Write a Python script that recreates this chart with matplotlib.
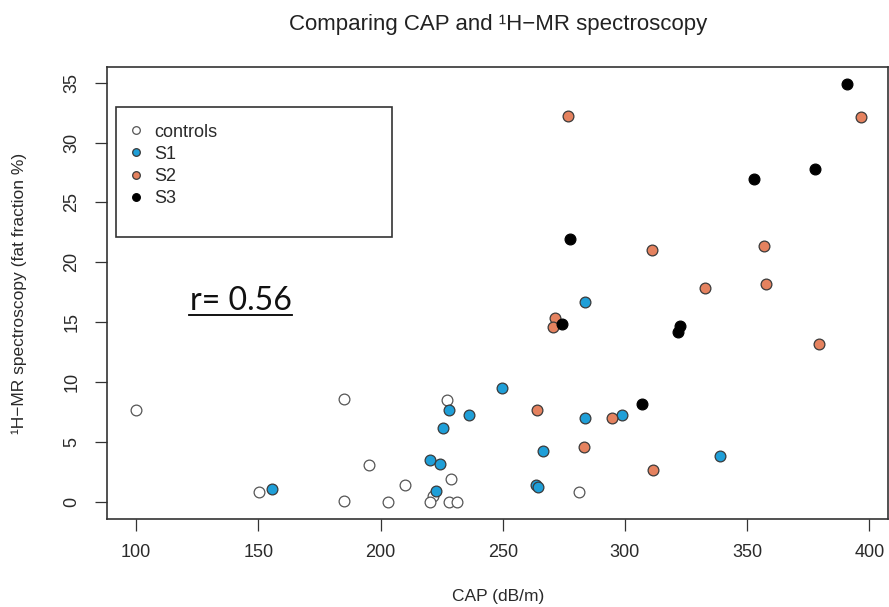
import matplotlib
matplotlib.use("Agg")
import matplotlib.pyplot as plt
from matplotlib.patches import Rectangle

# data
ctrl_x = [100.0, 185.1, 227.0, 195.1, 229.0, 210.1, 221.5, 220.1, 227.9, 231.1, 203.1, 185.1, 150.1, 281.0]
ctrl_y = [7.68, 8.63, 8.54, 3.06, 1.95, 1.39, 0.50, 0.0, 0.0, 0.0, 0.0, 0.05, 0.83, 0.81]

s1_x = [228.1, 236.0, 225.6, 220.3, 224.4, 222.6, 155.5, 249.9, 283.5, 298.7, 266.6, 338.9, 263.5, 264.6, 283.5]
s1_y = [7.65, 7.23, 6.18, 3.48, 3.17, 0.95, 1.08, 9.49, 7.04, 7.29, 4.26, 3.81, 1.39, 1.25, 16.69]

s2_x = [276.8, 396.6, 310.9, 356.8, 332.8, 357.5, 271.5, 270.4, 379.2, 264.0, 294.5, 283.1, 311.4]
s2_y = [32.25, 32.14, 21.06, 21.39, 17.86, 18.22, 15.38, 14.61, 13.19, 7.68, 7.01, 4.59, 2.70]

s3_x = [390.8, 377.9, 352.8, 277.4, 274.1, 322.4, 321.8, 307.1]
s3_y = [34.92, 27.80, 26.99, 21.95, 14.89, 14.69, 14.17, 8.21]

x_ticks = [100, 150, 200, 250, 300, 350, 400]
y_ticks = [0, 5, 10, 15, 20, 25, 30, 35]
r_label = "r= 0.56"

COL_S1 = "#1f9fd8"
COL_S2 = "#e5825f"
COL_S3 = "#000000"
COL_EDGE = "#3a3a3a"

plt.rcParams.update({
    "font.family": ["Liberation Sans", "DejaVu Sans"],
    "axes.linewidth": 1.2,
    "axes.edgecolor": "#333333",
})

fig = plt.figure(figsize=(8.89, 6.07), dpi=100)
ax = fig.add_axes([0.1206, 0.1453, 0.8788, 0.7442])

groups = [
    (ctrl_x, ctrl_y, "white", "#555555", "controls"),
    (s1_x, s1_y, COL_S1, COL_EDGE, "S1"),
    (s2_x, s2_y, COL_S2, COL_EDGE, "S2"),
    (s3_x, s3_y, COL_S3, COL_S3, "S3"),
]
for gx, gy, fc, ec, lab in groups:
    ax.scatter(gx, gy, s=60, facecolor=fc, edgecolor=ec, linewidth=0.9, zorder=3)

ax.set_xlim(88.2, 407.8)
ax.set_ylim(-1.4, 36.3)
ax.set_xticks(x_ticks)
ax.set_yticks(y_ticks)
ax.tick_params(direction="out", length=8.5, width=0.9, color="#333333",
               labelsize=13, labelcolor="#2a2a2a")
ax.tick_params(axis="x", pad=10)
ax.tick_params(axis="y", pad=11, labelrotation=90)
for lbl in ax.get_yticklabels():
    lbl.set_va("center")

ax.set_xlabel("CAP (dB/m)", fontsize=12.5, color="#2a2a2a")
ax.xaxis.set_label_coords(0.5, -0.155)
ax.set_ylabel("\u00b9H\u2212MR spectroscopy (fat fraction %)", fontsize=12.5, color="#2a2a2a")
ax.yaxis.set_label_coords(-0.103, 0.5)
ax.set_title("Comparing CAP and \u00b9H\u2212MR spectroscopy", fontsize=16,
             color="#222222", pad=27)

# legend with its own (larger) frame
handles = [
    plt.Line2D([], [], ls="none", marker="o", ms=5.5, mfc=fc, mec=ec, mew=0.9)
    for _, _, fc, ec, _ in groups
]
ax.legend(handles, [g[4] for g in groups], loc="upper left",
          bbox_to_anchor=(0.002, 0.915), frameon=False, fontsize=13,
          handlelength=1.0, handletextpad=0.5, labelspacing=0.29,
          borderpad=0.5, labelcolor="#2a2a2a")
ax.add_patch(Rectangle((0.0111, 0.6235), 0.3536, 0.2875, transform=ax.transAxes,
                       fill=False, edgecolor="#333333", linewidth=1.2, zorder=4))

# correlation note, underlined
ax.text(122.1, 16.0, r_label, fontsize=23, family=["Lato", "DejaVu Sans"],
        ha="left", va="baseline", color="#111111")
ax.plot([121.7, 163.8], [15.6, 15.6], color="black", lw=1.3)

fig.savefig("out.png", dpi=100)
